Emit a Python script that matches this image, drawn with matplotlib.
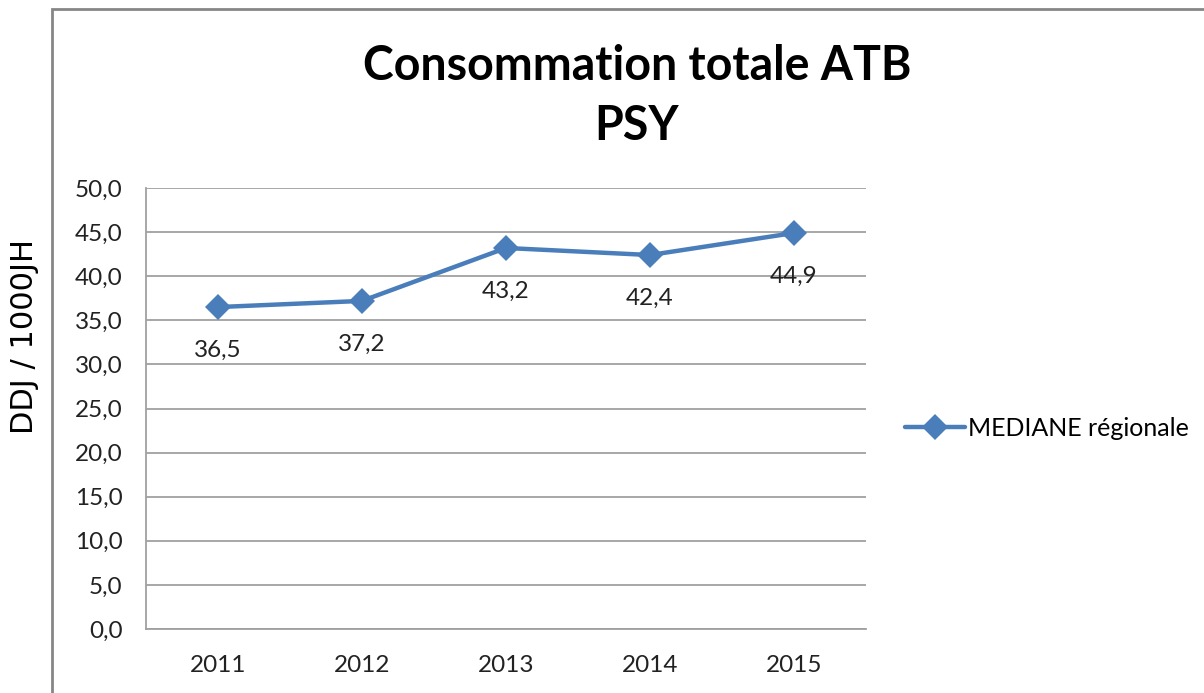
import matplotlib
matplotlib.use("Agg")
import matplotlib.pyplot as plt
from matplotlib.patches import Rectangle

years = ["2011", "2012", "2013", "2014", "2015"]
mediane = [36.5, 37.2, 43.2, 42.4, 44.9]
y_ticks = [0, 5, 10, 15, 20, 25, 30, 35, 40, 45, 50]

plt.rcParams["font.family"] = ["Lato", "DejaVu Sans"]

fig = plt.figure(figsize=(12.04, 6.93), dpi=100, facecolor="white")
ax = fig.add_axes([146 / 1204, 1 - 629 / 693, 720 / 1204, 441 / 693])

# chart frame (cut off at right and bottom like the original)
fig.patches.append(Rectangle((52 / 1204, -0.1), 1.2, 1 - 9 / 693 + 0.1,
                             transform=fig.transFigure, fill=False,
                             edgecolor="#868686", linewidth=2))

x = list(range(len(years)))
ax.plot(x, mediane, color="#4a7ebb", linewidth=3.2, marker="D",
        markersize=13.5, markeredgewidth=0, label="MEDIANE régionale",
        solid_capstyle="round", zorder=5)

for xi, v in zip(x, mediane):
    ax.annotate(f"{v:.1f}".replace(".", ","), xy=(xi, v), xytext=(0, -31),
                textcoords="offset points", ha="center", va="center",
                fontsize=17.5, color="#222222")

ax.set_xlim(-0.5, len(years) - 0.5)
ax.set_ylim(0, 50)
ax.set_yticks(y_ticks)
ax.set_yticklabels([f"{t:.1f}".replace(".", ",") for t in y_ticks])
ax.set_xticks(x)
ax.set_xticklabels(years)
ax.tick_params(axis="both", length=0, labelsize=17.5, colors="#222222")
ax.tick_params(axis="y", pad=17)
ax.tick_params(axis="x", pad=19)
ax.grid(axis="y", color="#a0a0a0", linewidth=1.3)
ax.set_axisbelow(True)
for side in ["top", "right"]:
    ax.spines[side].set_visible(False)
for side in ["left", "bottom"]:
    ax.spines[side].set_color("#a0a0a0")
    ax.spines[side].set_linewidth(1.3)

fig.text(637 / 1204, 1 - 96 / 693, "Consommation totale ATB\nPSY",
         ha="center", va="center", fontsize=33.5, fontweight="bold",
         linespacing=1.42)

fig.text(25 / 1204, 1 - 336 / 693, "DDJ / 1000JH", rotation=90,
         ha="center", va="center", fontsize=22, family="DejaVu Sans")

ax.legend(loc="center left", bbox_to_anchor=(895 / 720 - 146 / 720, 1 - (428 - 188) / 441),
          frameon=False, fontsize=18, handlelength=2.4, handletextpad=0.1,
          borderaxespad=0)

fig.savefig("out.png", dpi=100, facecolor="white")
